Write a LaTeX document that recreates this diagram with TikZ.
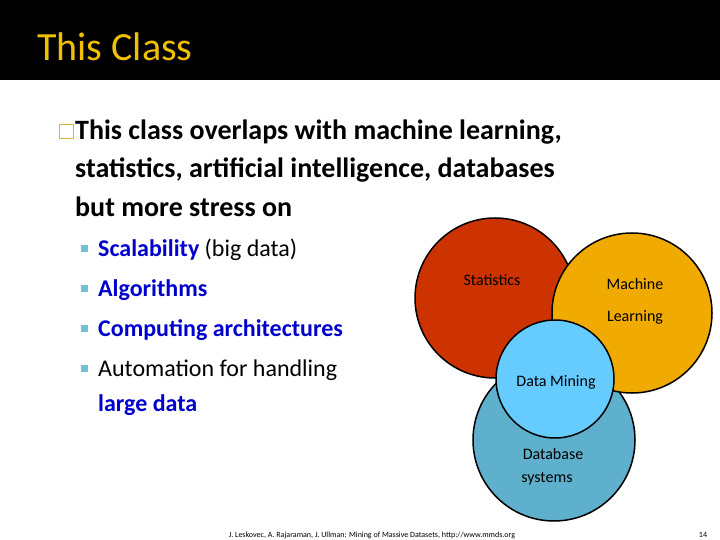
\documentclass[tikz,border=0pt]{standalone}
\usepackage{fontspec}
\setmainfont{Carlito}
\begin{document}
\begin{tikzpicture}[x=1pt,y=-1pt,
  lbl/.style={anchor=base,font=\fontsize{16}{16}\selectfont,inner sep=0pt},
  body/.style={anchor=base west,inner sep=0pt,font=\fontsize{28}{28}\selectfont\bfseries},
  sub/.style={anchor=base west,inner sep=0pt,font=\fontsize{24}{24}\selectfont},
  sq/.style={fill=cyan!50!teal!60,minimum size=7pt,inner sep=0pt},
  venn/.style={draw=black,line width=1.5pt}]
\useasboundingbox (0,0) rectangle (720,540);
\fill[white] (0,0) rectangle (720,540);
\fill[black] (0,0) rectangle (720,80);
\node[anchor=base west,inner sep=0pt,text={rgb,255:red,240;green,192;blue,0},font=\fontsize{40}{40}\selectfont] (title) at (37,61) {This Class};
\node[draw={rgb,255:red,220;green,180;blue,60},line width=1pt,minimum size=14pt,inner sep=0pt] (b0) at (66,132) {};
\node[body] (l1) at (75,140) {This class overlaps with machine learning,};
\node[body] (l2) at (75,178) {statistics, artificial intelligence, databases};
\node[body] (l3) at (75,216) {but more stress on};
\definecolor{bl}{RGB}{0,0,204}
\foreach \y in {256,296,336,376} \node[sq] at (84,\y-8) {};
\node[sub] (s1) at (98,256) {\textcolor{bl}{\bfseries Scalability} (big data)};
\node[sub] (s2) at (98,296) {\textcolor{bl}{\bfseries Algorithms}};
\node[sub] (s3) at (98,336) {\textcolor{bl}{\bfseries Computing architectures}};
\node[sub] (s4) at (98,376) {Automation for handling};
\node[sub] (s5) at (98,411) {\textcolor{bl}{\bfseries large data}};
\fill[venn,fill={rgb,255:red,95;green,176;blue,204}] (554,440) circle (81);
\fill[venn,fill={rgb,255:red,204;green,51;blue,0}] (495,298) circle (80);
\fill[venn,fill={rgb,255:red,240;green,170;blue,0}] (632,313) circle (80);
\fill[venn,fill={rgb,255:red,102;green,204;blue,255}] (555,379) circle (59);
\node[lbl] (st) at (492,285) {Statistics};
\node[lbl] (m1) at (635,289) {Machine};
\node[lbl] (m2) at (635,321) {Learning};
\node[lbl] (dm) at (556,386) {Data Mining};
\node[lbl] (db1) at (553,459) {Database};
\node[lbl] (db2) at (547,482) {systems};
\node[anchor=base,inner sep=0pt,font=\fontsize{8}{8}\selectfont] (foot) at (372,537) {J. Leskovec, A. Rajaraman, J. Ullman: Mining of Massive Datasets, http://www.mmds.org};
\node[anchor=base,inner sep=0pt,font=\fontsize{8}{8}\selectfont] (pg) at (703,537) {14};
\end{tikzpicture}
\end{document}
